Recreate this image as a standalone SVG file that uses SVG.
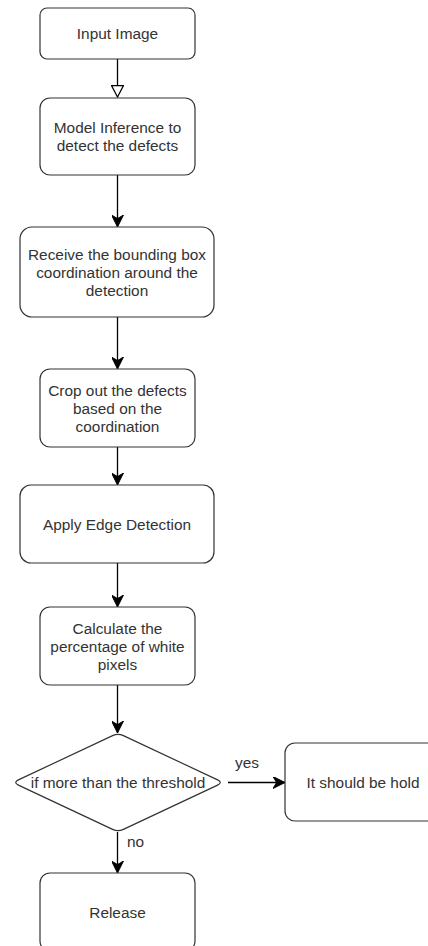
<svg xmlns="http://www.w3.org/2000/svg" width="428" height="946" viewBox="0 0 428 946">
  <style>
    .box { fill: #ffffff; stroke: #333333; stroke-width: 1.2; }
    .lbl { font-family: "Liberation Sans", Arial, sans-serif; font-size: 15.4px; fill: #333333; text-anchor: middle; }
    .edge { fill: none; stroke: #000000; stroke-width: 1.3; }
    .elbl { font-family: "Liberation Sans", Arial, sans-serif; font-size: 15.4px; fill: #333333; }
  </style>
  <defs>
    <marker id="arrow" markerUnits="userSpaceOnUse" markerWidth="12" markerHeight="12" refX="10" refY="5" orient="auto" viewBox="0 0 10 10">
      <path d="M0,0 L10,5 L0,10 L3,5 Z" fill="#000000" stroke="#000000" stroke-width="0.8"/>
    </marker>
    <marker id="hollow" markerUnits="userSpaceOnUse" markerWidth="13" markerHeight="13" refX="11" refY="6" orient="auto" viewBox="0 0 12 12">
      <path d="M0.5,0.5 L11,6 L0.5,11.5 Z" fill="#ffffff" stroke="#000000" stroke-width="1.1"/>
    </marker>
  </defs>
  <rect width="428" height="946" fill="#ffffff"/>

  <g id="connectors">
    <line class="edge" x1="117.5" y1="59" x2="117.5" y2="97" marker-end="url(#hollow)"/>
    <line class="edge" x1="117.5" y1="175" x2="117.5" y2="227" marker-end="url(#arrow)"/>
    <line class="edge" x1="117.5" y1="317" x2="117.5" y2="369" marker-end="url(#arrow)"/>
    <line class="edge" x1="117.5" y1="447" x2="117.5" y2="485" marker-end="url(#arrow)"/>
    <line class="edge" x1="117.5" y1="563" x2="117.5" y2="607" marker-end="url(#arrow)"/>
    <line class="edge" x1="117.5" y1="685" x2="117.5" y2="733" marker-end="url(#arrow)"/>
    <line class="edge" x1="228" y1="782.5" x2="285" y2="782.5" marker-end="url(#arrow)"/>
    <line class="edge" x1="117.5" y1="832" x2="117.5" y2="873" marker-end="url(#arrow)"/>
    <text class="elbl" x="235" y="768">yes</text>
    <text class="elbl" x="127" y="847">no</text>
  </g>

  <g id="input-image">
    <rect class="box" x="40" y="8" width="155" height="51" rx="7"/>
    <text class="lbl" x="117.5" y="39">Input Image</text>
  </g>

  <g id="model-inference">
    <rect class="box" x="40" y="98" width="155" height="77" rx="10"/>
    <text class="lbl" x="117.5" y="133">Model Inference to</text>
    <text class="lbl" x="117.5" y="151">detect the defects</text>
  </g>

  <g id="bounding-box">
    <rect class="box" x="20" y="227" width="194" height="90" rx="12"/>
    <text class="lbl" x="117" y="259.5">Receive the bounding box</text>
    <text class="lbl" x="117" y="277.5">coordination around the</text>
    <text class="lbl" x="117" y="295.5">detection</text>
  </g>

  <g id="crop-defects">
    <rect class="box" x="40" y="369" width="155" height="78" rx="10"/>
    <text class="lbl" x="117.5" y="395.5">Crop out the defects</text>
    <text class="lbl" x="117.5" y="413.5">based on the</text>
    <text class="lbl" x="117.5" y="431.5">coordination</text>
  </g>

  <g id="edge-detection">
    <rect class="box" x="20" y="485" width="194" height="78" rx="11"/>
    <text class="lbl" x="117" y="529.5">Apply Edge Detection</text>
  </g>

  <g id="white-pixels">
    <rect class="box" x="40" y="607" width="155" height="78" rx="10"/>
    <text class="lbl" x="117.5" y="633.5">Calculate the</text>
    <text class="lbl" x="117.5" y="651.5">percentage of white</text>
    <text class="lbl" x="117.5" y="669.5">pixels</text>
  </g>

  <g id="threshold-check">
    <path class="box" d="M112.6,735.6 Q118,733 123.4,735.6 L217.6,779.9 Q223,782.5 217.6,785.1 L123.4,829.4 Q118,832 112.6,829.4 L18.4,785.1 Q13,782.5 18.4,779.9 Z"/>
    <text class="lbl" x="118" y="788">if more than the threshold</text>
  </g>

  <g id="hold">
    <rect class="box" x="285" y="743" width="155" height="78" rx="10"/>
    <text class="lbl" x="363" y="787.5">It should be hold</text>
  </g>

  <g id="release">
    <rect class="box" x="40" y="873" width="155" height="78" rx="10"/>
    <text class="lbl" x="117.5" y="917.5">Release</text>
  </g>
</svg>
